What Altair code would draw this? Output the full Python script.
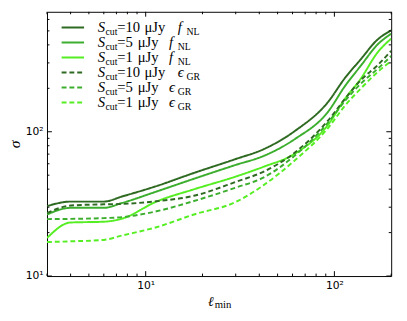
import altair as alt
import pandas as pd

# ---- data ----
ell = [3, 4, 6, 7.5, 11.4, 18, 30, 42, 62, 93, 113, 138, 169, 200]
s10_fnl = [30.5, 32.8, 32.8, 35.6, 42.0, 51.8, 64.7, 75.5, 101.6, 162, 233, 318, 434, 504]
s5_fnl = [26.7, 29.7, 29.7, 32.1, 38.5, 47.2, 58.9, 67.8, 89.3, 138.7, 204.6, 286.7, 401, 478]
s1_fnl = [18.35, 23.5, 23.8, 25.0, 32.8, 39.9, 48.9, 57.1, 70.7, 112.7, 167, 233, 353, 442]
s10_egr = [27.3, 30.8, 31.4, 31.6, 33.0, 36.0, 44.9, 52.8, 72.1, 120.5, 167, 228, 288, 364]
s5_egr = [24.8, 24.9, 25.2, 25.6, 28.1, 33.1, 41.0, 48.1, 68.8, 116.8, 161.9, 215.4, 272, 335]
s1_egr = [17.2, 17.4, 17.8, 19.1, 21.8, 26.7, 32.6, 42.5, 63.7, 106.9, 149.9, 199.2, 258.4, 310]

series_names = ["10 fNL", "5 fNL", "1 fNL", "10 eGR", "5 eGR", "1 eGR"]
series_vals = [s10_fnl, s5_fnl, s1_fnl, s10_egr, s5_egr, s1_egr]
series_colors = ["#2f6a22", "#3cae2e", "#55ee22", "#2f6a22", "#3cae2e", "#55ee22"]
series_dash = ["solid", "solid", "solid", "dash", "dash", "dash"]

leg_num = ["10", "5", "1", "10", "5", "1"]
leg_sym = ["f", "f", "f", "ϵ", "ϵ", "ϵ"]
leg_sub = ["NL", "NL", "NL", "GR", "GR", "GR"]

y_major = [10, 100]
y_minor = [20, 30, 40, 50, 60, 70, 80, 90, 200, 300, 400, 500, 600]
x_major = [10, 100]
x_minor = [3, 4, 5, 6, 7, 8, 9, 20, 30, 40, 50, 60, 70, 80, 90, 200]

W, H = 353, 271
xs = alt.Scale(type="log", domain=[3, 200], nice=False)
ys = alt.Scale(type="log", domain=[10, 678], nice=False)

x_axis = alt.Axis(values=x_major, ticks=False, domain=False, grid=False,
                  labelExpr="datum.value == 10 ? '10¹' : '10²'",
                  labelFont="DejaVu Sans", labelFontSize=11, labelColor="black",
                  labelPadding=4, title=None)
y_axis = alt.Axis(values=y_major, ticks=False, domain=False, grid=False,
                  labelExpr="datum.value == 10 ? '10¹' : '10²'",
                  labelFont="DejaVu Sans", labelFontSize=11, labelColor="black",
                  labelPadding=4, title="σ", titleFont="Liberation Serif",
                  titleFontStyle="italic", titleFontWeight="normal", titleBaseline="middle",
                  titleFontSize=16, titleColor="black", titleX=-33, titleY=H / 2)

rows = []
for name, vals, dash in zip(series_names, series_vals, series_dash):
    for l, v in zip(ell, vals):
        rows.append({"series": name, "ell": l, "sigma": v, "dash": dash})
df = pd.DataFrame(rows)

color = alt.Color("series:N", scale=alt.Scale(domain=series_names, range=series_colors), legend=None)
dash_enc = alt.StrokeDash("dash:N", scale=alt.Scale(domain=["solid", "dash"], range=[[1, 0], [5, 3]]), legend=None)

lines = alt.Chart(df).mark_line(strokeWidth=2, interpolate="monotone", clip=True).encode(
    x=alt.X("ell:Q", scale=xs, axis=x_axis),
    y=alt.Y("sigma:Q", scale=ys, axis=y_axis),
    color=color,
    strokeDash=dash_enc,
    detail="series:N",
)

def yticks(vals, length):
    d = pd.DataFrame({"v": vals})
    left = alt.Chart(d).mark_rule(color="black", strokeWidth=1).encode(
        y=alt.Y("v:Q", scale=ys, axis=y_axis), x=alt.value(0), x2=alt.value(length))
    right = alt.Chart(d).mark_rule(color="black", strokeWidth=1).encode(
        y=alt.Y("v:Q", scale=ys, axis=y_axis), x=alt.value(W), x2=alt.value(W - length))
    return [left, right]

def xticks(vals, length):
    d = pd.DataFrame({"v": vals})
    bottom = alt.Chart(d).mark_rule(color="black", strokeWidth=1).encode(
        x=alt.X("v:Q", scale=xs, axis=x_axis), y=alt.value(H), y2=alt.value(H - length))
    top = alt.Chart(d).mark_rule(color="black", strokeWidth=1).encode(
        x=alt.X("v:Q", scale=xs, axis=x_axis), y=alt.value(0), y2=alt.value(length))
    return [bottom, top]

ticks = yticks(y_major, 5) + yticks(y_minor, 2.5) + xticks(x_major, 5) + xticks(x_minor, 2.5)

# ---- legend (built by hand so sub-scripts can be drawn) ----
leg = pd.DataFrame({
    "series": series_names,
    "dash": series_dash,
    "num": leg_num,
    "sym": leg_sym,
    "sub": leg_sub,
    "i": list(range(6)),
})
leg_base = alt.Chart(leg).transform_calculate(
    ly="16 + 15.4 * datum.i",
    eq="'=' + datum.num",
    mx="datum.num == '10' ? 100 : 93",
    fx="datum.num == '10' ? 134 : 125",
)
leg_lines = leg_base.mark_rule(strokeWidth=2).encode(
    x=alt.value(15), x2=alt.value(38), y=alt.Y("ly:Q", scale=None), color=color, strokeDash=dash_enc)

FONT = "Liberation Serif"

def piece(xenc, text, size, dy, italic=False, dx=0):
    kw = dict(align="left", baseline="alphabetic", font=FONT, fontSize=size,
              color="black", dy=dy, dx=dx)
    if italic:
        kw["fontStyle"] = "italic"
    return leg_base.mark_text(**kw).encode(x=xenc, y=alt.Y("ly:Q", scale=None), text=text)

txt_S = piece(alt.value(52), alt.value("S"), 15, 5, italic=True)
txt_cut = piece(alt.value(60), alt.value("cut"), 10, 8)
txt_eq = piece(alt.value(72), "eq:N", 15, 5)
txt_mu = piece(alt.X("mx:Q", scale=None), alt.value("μJy"), 15, 5)
txt_sym = piece(alt.X("fx:Q", scale=None), "sym:N", 15, 5, italic=True)
txt_sub = piece(alt.X("fx:Q", scale=None), "sub:N", 10, 8, dx=9)

# ---- x-axis title ----
xt = pd.DataFrame({"t": ["ℓ"]})
xt_l = alt.Chart(xt).mark_text(align="left", baseline="alphabetic", font="DejaVu Serif", fontStyle="italic",
                               fontSize=14, color="black").encode(
    x=alt.value(165), y=alt.value(302), text="t:N")
xt_min = alt.Chart(xt).mark_text(align="left", baseline="alphabetic", font=FONT,
                                 fontSize=11, color="black").encode(
    x=alt.value(172), y=alt.value(304), text=alt.value("min"))

chart = alt.layer(
    lines, *ticks, leg_lines, txt_S, txt_cut, txt_eq, txt_mu, txt_sym, txt_sub, xt_l, xt_min
).properties(
    width=W, height=H,
    autosize=alt.AutoSizeParams(type="none"),
    padding={"left": 40, "top": 0, "right": 8, "bottom": 34},
).configure_view(stroke="black", strokeWidth=1)

chart.save("out.html", embed_options={"renderer": "svg", "actions": False})
